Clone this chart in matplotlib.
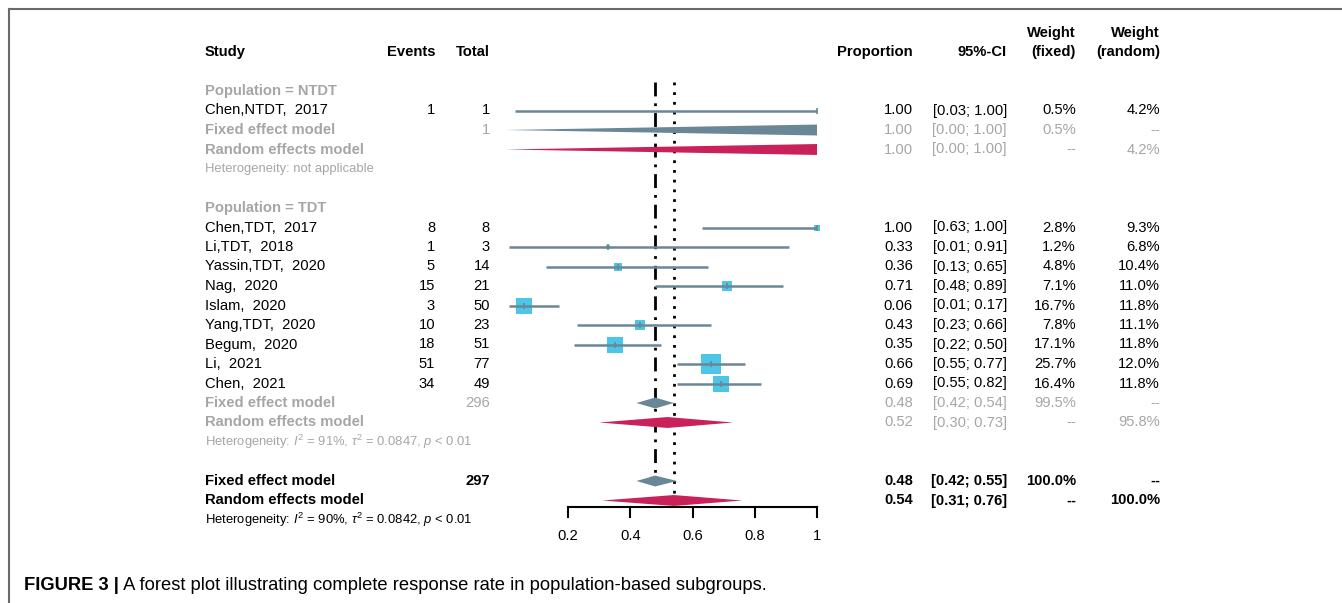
import numpy as np
import matplotlib.pyplot as plt
import matplotlib.transforms as mtransforms
from matplotlib.lines import Line2D

plt.rcParams['font.family'] = ['Liberation Sans', 'DejaVu Sans']
plt.rcParams['mathtext.fontset'] = 'custom'
plt.rcParams['mathtext.rm'] = 'Liberation Sans'
plt.rcParams['mathtext.it'] = 'Liberation Sans:italic'

# data
ntdt_studies = ["Chen,NTDT,  2017"]
ntdt_events = [1]
ntdt_total = [1]
ntdt_prop = [1.00]
ntdt_lo = [0.03]
ntdt_hi = [1.00]
ntdt_wf = [0.5]
ntdt_wr = [4.2]

tdt_studies = ["Chen,TDT,  2017", "Li,TDT,  2018", "Yassin,TDT,  2020", "Nag,  2020",
               "Islam,  2020", "Yang,TDT,  2020", "Begum,  2020", "Li,  2021", "Chen,  2021"]
tdt_events = [8, 1, 5, 15, 3, 10, 18, 51, 34]
tdt_total = [8, 3, 14, 21, 50, 23, 51, 77, 49]
tdt_prop = [1.00, 0.33, 0.36, 0.71, 0.06, 0.43, 0.35, 0.66, 0.69]
tdt_lo = [0.63, 0.01, 0.13, 0.48, 0.01, 0.23, 0.22, 0.55, 0.55]
tdt_hi = [1.00, 0.91, 0.65, 0.89, 0.17, 0.66, 0.50, 0.77, 0.82]
tdt_wf = [2.8, 1.2, 4.8, 7.1, 16.7, 7.8, 17.1, 25.7, 16.4]
tdt_wr = [9.3, 6.8, 10.4, 11.0, 11.8, 11.1, 11.8, 12.0, 11.8]

# summaries: (est, lo, hi)
ntdt_fixed = (1.00, 0.00, 1.00)
ntdt_random = (1.00, 0.00, 1.00)
tdt_fixed = (0.48, 0.42, 0.54)
tdt_random = (0.52, 0.30, 0.73)
all_fixed = (0.48, 0.42, 0.55)
all_random = (0.54, 0.31, 0.76)

xticks = [0.2, 0.4, 0.6, 0.8, 1.0]
xticklabels = ["0.2", "0.4", "0.6", "0.8", "1"]

W, H = 1342, 603
GREY = "#a6a6a6"
LINEC = "#6a8797"
SQC = "#4cc6e6"
FIXC = "#6a8797"
RANC = "#c9215a"

fig = plt.figure(figsize=(W / 100, H / 100), dpi=100)
ax = fig.add_axes([0, 0, 1, 1])
ax.axis('off')
# 0.2 -> px 568, 1 -> px 817 ; row r -> px 52 + 19.5 r
scale = (817 - 568) / 0.8
ax.set_xlim(0.2 - 568 / scale, 0.2 + (W - 568) / scale)
ax.set_ylim((H - 52) / 19.5, -52 / 19.5)

tr = mtransforms.blended_transform_factory(ax.transAxes, ax.transData)
FS = 10.6
HFS = 9.4


def col(px):
    return px / W


def txt(px, row, s, ha='left', color='black', weight='normal', size=FS):
    ax.text(col(px), row, s, transform=tr, ha=ha, va='center', color=color,
            fontweight=weight, fontsize=size)


def diamond(row, est, lo, hi, color, h=0.28):
    ax.fill([lo, est, hi, est], [row, row - h, row, row + h], color=color, lw=0, zorder=3)


def study_rows(start, names, ev, tot, pr, lo, hi, wf, wr):
    for i in range(len(names)):
        r = start + i
        txt(205, r, names[i])
        txt(435, r, str(ev[i]), ha='right')
        txt(490, r, str(tot[i]), ha='right')
        txt(913, r, f"{pr[i]:.2f}", ha='right')
        txt(1007, r, f"[{lo[i]:.2f}; {hi[i]:.2f}]", ha='right')
        txt(1076, r, f"{wf[i]:.1f}%", ha='right')
        txt(1160, r, f"{wr[i]:.1f}%", ha='right')
        side = 3.9 * np.sqrt(wf[i]) * 0.72
        ax.scatter([pr[i]], [r], marker='s', s=side ** 2, color=SQC, lw=0, zorder=2)
        ax.plot([lo[i], hi[i]], [r, r], color=LINEC, lw=1.8, zorder=4, solid_capstyle='butt')
        ax.plot([pr[i]], [r], marker='|', ms=5, mew=1.2, color=LINEC, zorder=5)


def summary_rows(r, total, fixed, random_, wf, wr, color, weight):
    txt(205, r, "Fixed effect model", color=color, weight='bold')
    txt(490, r, str(total), ha='right', color=color, weight=weight)
    txt(913, r, f"{fixed[0]:.2f}", ha='right', color=color, weight=weight)
    txt(1007, r, f"[{fixed[1]:.2f}; {fixed[2]:.2f}]", ha='right', color=color, weight=weight)
    txt(1076, r, wf, ha='right', color=color, weight=weight)
    txt(1160, r, "--", ha='right', color=color, weight=weight)
    txt(205, r + 1, "Random effects model", color=color, weight='bold')
    txt(913, r + 1, f"{random_[0]:.2f}", ha='right', color=color, weight=weight)
    txt(1007, r + 1, f"[{random_[1]:.2f}; {random_[2]:.2f}]", ha='right', color=color, weight=weight)
    txt(1076, r + 1, "--", ha='right', color=color, weight=weight)
    txt(1160, r + 1, wr, ha='right', color=color, weight=weight)
    diamond(r, fixed[0], fixed[1], fixed[2], FIXC)
    diamond(r + 1, random_[0], random_[1], random_[2], RANC)


# header
txt(205, 0, "Study", weight='bold')
txt(435, 0, "Events", ha='right', weight='bold')
txt(490, 0, "Total", ha='right', weight='bold')
txt(913, 0, "Proportion", ha='right', weight='bold')
txt(1007, 0, "95%-CI", ha='right', weight='bold')
txt(1076, -1, "Weight", ha='right', weight='bold')
txt(1076, 0, "(fixed)", ha='right', weight='bold')
txt(1160, -1, "Weight", ha='right', weight='bold')
txt(1160, 0, "(random)", ha='right', weight='bold')

# NTDT subgroup
txt(205, 2, "Population = NTDT", color=GREY, weight='bold')
study_rows(3, ntdt_studies, ntdt_events, ntdt_total, ntdt_prop, ntdt_lo, ntdt_hi, ntdt_wf, ntdt_wr)
summary_rows(4, sum(ntdt_total), ntdt_fixed, ntdt_random, "0.5%", "4.2%", GREY, 'normal')
txt(205, 6, "Heterogeneity: not applicable", color=GREY, size=HFS)

# TDT subgroup
txt(205, 8, "Population = TDT", color=GREY, weight='bold')
study_rows(9, tdt_studies, tdt_events, tdt_total, tdt_prop, tdt_lo, tdt_hi, tdt_wf, tdt_wr)
summary_rows(18, sum(tdt_total), tdt_fixed, tdt_random, "99.5%", "95.8%", GREY, 'normal')
txt(205, 20, r"Heterogeneity: $I^2$ = 91%, $\tau^2$ = 0.0847, $p$ < 0.01", color=GREY, size=HFS)

# overall
summary_rows(22, sum(ntdt_total) + sum(tdt_total), all_fixed, all_random, "100.0%", "100.0%",
             'black', 'bold')
txt(205, 24, r"Heterogeneity: $I^2$ = 90%, $\tau^2$ = 0.0842, $p$ < 0.01", size=HFS)

# reference lines
ax.plot([all_fixed[0]] * 2, [1.55, 22], color='black', lw=2.0, ls=(0, (5, 2.5, 1, 2.5)), zorder=1)
ax.plot([all_random[0]] * 2, [1.55, 23], color='black', lw=2.0, ls=(0, (1, 2.5)), zorder=1)

# x axis
axis_row = 23.35
ax.plot([xticks[0], xticks[-1]], [axis_row, axis_row], color='black', lw=1.5)
for t, lab in zip(xticks, xticklabels):
    ax.plot([t, t], [axis_row, axis_row + 0.5], color='black', lw=1.5)
    ax.text(t, axis_row + 1.45, lab, ha='center', va='center', fontsize=FS)

# frame and caption
fig.add_artist(Line2D([9 / W, 1], [1 - 9 / H, 1 - 9 / H], color='#6a6a6a', lw=1.5))
fig.add_artist(Line2D([9 / W, 9 / W], [0, 1 - 9 / H], color='#6a6a6a', lw=1.5))
t1 = fig.text(24 / W, 1 - 585 / H, "FIGURE 3 |", fontweight='bold', fontsize=13.2, va='center')
ax.annotate(" A forest plot illustrating complete response rate in population-based subgroups.",
            xy=(1, 0.5), xycoords=t1, va='center', ha='left', fontsize=13.2)

fig.savefig("out.png", dpi=100)
